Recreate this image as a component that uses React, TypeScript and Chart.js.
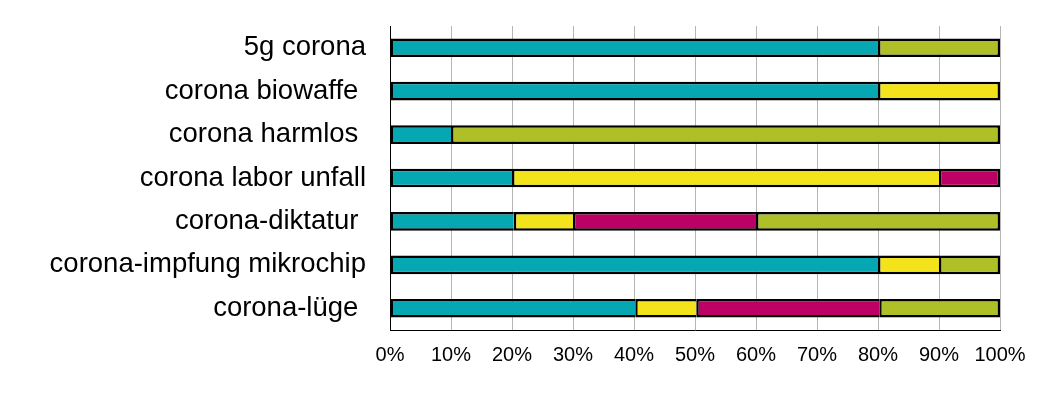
import React, { useEffect, useRef } from "react";
import { Chart, registerables } from "chart.js";

Chart.register(...registerables);

const categories = [
  "5g corona",
  "corona biowaffe ",
  "corona harmlos ",
  "corona labor unfall",
  "corona-diktatur ",
  "corona-impfung mikrochip",
  "corona-lüge ",
];

const tealValues = [80, 80, 10, 20, 20.3, 80, 40.2];
const yellowValues = [null, 20, null, 70, 9.7, 10, 10];
const magentaValues = [null, null, null, 10, 30, null, 30];
const oliveValues = [20, null, 90, null, 40, 10, 19.8];

const tickValues = [0, 10, 20, 30, 40, 50, 60, 70, 80, 90, 100];

const seriesColors = ["#05A8B2", "#F2E31A", "#BD0066", "#AFBF27"];

export default function App() {
  const canvasRef = useRef<HTMLCanvasElement | null>(null);

  useEffect(() => {
    if (!canvasRef.current) return;
    const all = [tealValues, yellowValues, magentaValues, oliveValues];
    const lastIdx = categories.map((_, i) => {
      let last = 0;
      all.forEach((arr, d) => {
        if (arr[i] != null) last = d;
      });
      return last;
    });
    const bw = (ctx: any) => ({
      top: 2.5,
      bottom: 2.5,
      left: 2.5,
      right: ctx.datasetIndex === lastIdx[ctx.dataIndex] ? 2.5 : 0,
    });
    const mk = (label: string, data: any[], color: string) => ({
      label,
      data,
      backgroundColor: color,
      borderColor: "#000000",
      borderWidth: bw,
      borderSkipped: false,
      categoryPercentage: 1,
      barPercentage: 0.43,
    });
    const chart = new Chart(canvasRef.current, {
      type: "bar",
      data: {
        labels: categories,
        datasets: [
          mk("teal", tealValues, seriesColors[0]),
          mk("yellow", yellowValues, seriesColors[1]),
          mk("magenta", magentaValues, seriesColors[2]),
          mk("olive", oliveValues, seriesColors[3]),
        ],
      },
      options: {
        indexAxis: "y",
        responsive: false,
        animation: false,
        layout: { padding: { top: 26, right: 38, bottom: 0, left: 0 } },
        plugins: {
          legend: { display: false },
          tooltip: { enabled: false },
          title: { display: false },
        },
        scales: {
          x: {
            stacked: true,
            min: 0,
            max: 100,
            afterBuildTicks: (s: any) => {
              s.ticks = tickValues.map((v) => ({ value: v }));
            },
            afterFit: (s: any) => {
              s.height = 67;
              s.paddingLeft = 0;
              s.paddingRight = 0;
            },
            grid: { color: "#b5b5b5", lineWidth: 1, drawTicks: false },
            border: { display: true, color: "#000000", width: 1 },
            ticks: {
              color: "#000000",
              padding: 13,
              maxRotation: 0,
              autoSkip: false,
              font: { family: "'Liberation Sans', Arial, sans-serif", size: 20 },
              callback: (v: any) => v + "%",
            },
          },
          y: {
            stacked: true,
            afterFit: (s: any) => {
              s.width = 390;
              s.paddingTop = 0;
              s.paddingBottom = 0;
            },
            grid: { display: false, drawTicks: false },
            border: { display: true, color: "#000000", width: 1 },
            ticks: {
              color: "#000000",
              padding: 24,
              autoSkip: false,
              font: { family: "'Liberation Sans', Arial, sans-serif", size: 27.5 },
            },
          },
        },
      },
    });
    return () => chart.destroy();
  }, []);

  return (
    <div style={{ position: "fixed", left: 0, top: 0, width: 1038, height: 397, background: "#ffffff" }}>
      <canvas ref={canvasRef} width={1038} height={397} />
    </div>
  );
}
